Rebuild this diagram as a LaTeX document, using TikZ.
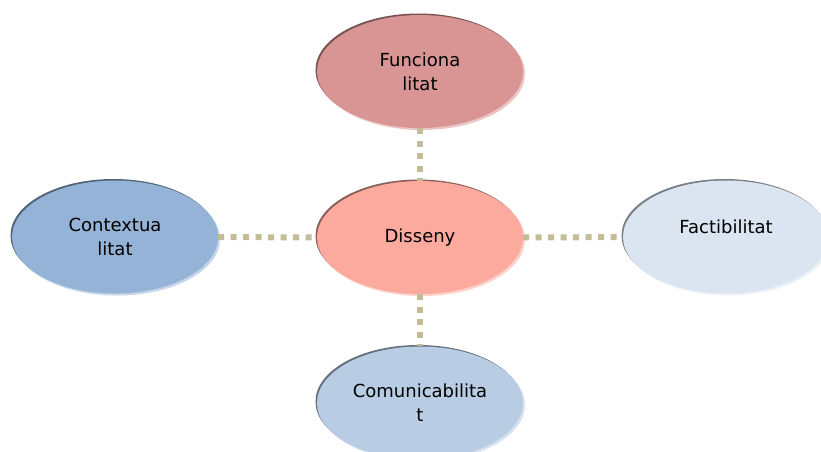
\documentclass[tikz,border=0pt]{standalone}
\usepackage{fontspec}
\setmainfont{DejaVu Sans}
\usetikzlibrary{shapes.geometric,shadows}

\definecolor{lienc}{HTML}{C4BC96}
\definecolor{rouge}{HTML}{D99594}
\definecolor{saumon}{HTML}{FCAA9E}
\definecolor{bleuf}{HTML}{95B3D7}
\definecolor{bleum}{HTML}{B8CCE4}
\definecolor{bleuc}{HTML}{DBE5F1}

\tikzset{
  bulle/.style={ellipse, fill=#1, minimum width=206pt, minimum height=113pt,
    inner sep=0pt, align=center, font=\fontsize{18}{24}\selectfont,
    general shadow={shadow xshift=2pt, shadow yshift=-2pt, fill=#1!55!white},
    general shadow={shadow xshift=-1.5pt, shadow yshift=1.5pt, fill=#1!55!black}},
  lien/.style={line width=6pt, draw=lienc, dash pattern=on 6pt off 6.5pt}
}

\begin{document}
\begin{tikzpicture}[x=1pt, y=-1pt]
    % Cadre de l'image
    \useasboundingbox (0,0) rectangle (821,451);
    \clip (0,0) rectangle (821,451);

    % Centres des ellipses
    \coordinate (Ch) at (420,71.5);
    \coordinate (Cc) at (420,237.5);
    \coordinate (Cg) at (115,237);
    \coordinate (Cd) at (726,237);
    \coordinate (Cb) at (420,403);

    % Ellipses
    \node[bulle=rouge] (funcio) at (Ch) {Funciona\\litat};
    \node[bulle=saumon] (disseny) at (Cc) {Disseny};
    \node[bulle=bleuf] (context) at (Cg) {Contextua\\litat};
    \node[bulle=bleuc, text depth=21pt] (factib) at (Cd) {Factibilitat};
    \node[bulle=bleum] (comunic) at (Cb) {Comunicabilita\\t};

    % Liens en pointillés
    \draw[lien] (funcio) -- (disseny);
    \draw[lien] (context) -- (disseny);
    \draw[lien] (disseny) -- (factib);
    \draw[lien] (disseny) -- (comunic);
\end{tikzpicture}
\end{document}
